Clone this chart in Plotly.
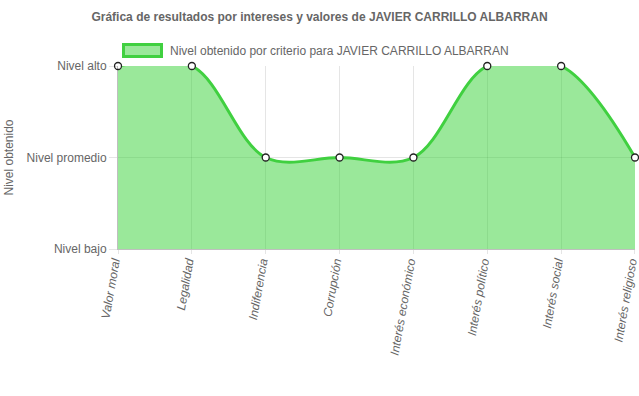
import plotly.graph_objects as go

categories = ["Valor moral", "Legalidad", "Indiferencia", "Corrupción",
              "Interés económico", "Interés político", "Interés social", "Interés religioso"]
values = [3, 3, 2, 2, 2, 3, 3, 2]
level_vals = [1, 2, 3]
level_text = ["Nivel bajo", "Nivel promedio", "Nivel alto"]
series_name = "Nivel obtenido por criterio para JAVIER CARRILLO ALBARRAN"
title_text = "Gráfica de resultados por intereses y valores de JAVIER CARRILLO ALBARRAN"

line_col = "rgb(64,208,64)"
fill_col = "rgba(54,209,54,0.5)"
gray = "#666666"
font_fam = "Liberation Sans, Arial, Helvetica, sans-serif"

W, H = 639, 396
L, R, T, B = 118, 4, 66, 147
pw, ph = W - L - R, H - T - B


def px_x(p):
    return (p - L) / pw


def px_y(p):
    return (H - B - p) / ph


xs = list(range(len(categories)))

fig = go.Figure()
fig.add_trace(go.Scatter(
    x=xs, y=values, mode="lines+markers", fill="tozeroy", name=series_name,
    fillcolor=fill_col, line=dict(color=line_col, width=3, shape="spline", smoothing=1),
    marker=dict(size=7, color="white", line=dict(color="#222", width=1.3)),
    cliponaxis=False, showlegend=False, hoverinfo="skip"))

# legend box drawn as in the reference (wide filled box with border)
fig.add_shape(type="rect", xref="paper", yref="paper",
              x0=px_x(123.5), x1=px_x(161.5), y0=px_y(56.5), y1=px_y(44.5),
              line=dict(color=line_col, width=3), fillcolor=fill_col, layer="above")
fig.add_annotation(xref="paper", yref="paper", x=px_x(168), y=px_y(50.5),
                   xanchor="left", yanchor="middle", showarrow=False,
                   text=series_name, font=dict(size=12, color=gray))

fig.update_layout(
    width=W, height=H,
    margin=dict(l=L, r=R, t=T, b=B, autoexpand=False),
    paper_bgcolor="white", plot_bgcolor="white",
    font=dict(family=font_fam, size=12, color=gray),
    title=dict(text="<b>" + title_text + "</b>", x=0.5, xanchor="center",
               y=1 - 17 / H, yanchor="middle", font=dict(size=12, color=gray)),
    showlegend=False,
    xaxis=dict(range=[-0.0001, len(categories) - 1 + 0.0001], tickmode="array", tickvals=xs,
               ticktext=categories, tickangle=-80, showgrid=True,
               gridcolor="rgba(0,0,0,0.1)", ticks="outside", ticklen=4,
               tickcolor="rgba(0,0,0,0.1)", showline=True, linecolor="rgba(0,0,0,0.25)",
               ticklabeloverflow="allow", ticklabelshift=-4, ticklabelstandoff=-4,
               tickfont=dict(size=12, color=gray, style="italic"), zeroline=False),
    yaxis=dict(range=[1, 3], tickmode="array", tickvals=level_vals, ticktext=level_text,
               showgrid=True, gridcolor="rgba(0,0,0,0.1)", ticks="outside", ticklen=8,
               tickcolor="rgba(0,0,0,0.1)", showline=True, linecolor="rgba(0,0,0,0.25)",
               zeroline=False, title=dict(text="Nivel obtenido", standoff=10,
                                          font=dict(size=12, color=gray))),
)

fig.write_html("out.html")
